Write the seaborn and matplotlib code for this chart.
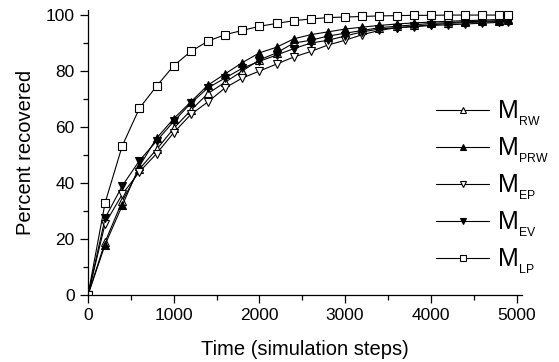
import seaborn as sns
import matplotlib.pyplot as plt
from matplotlib.ticker import MultipleLocator

# simulation steps
steps = [0, 200, 400, 600, 800, 1000, 1200, 1400, 1600, 1800, 2000, 2200, 2400,
         2600, 2800, 3000, 3200, 3400, 3600, 3800, 4000, 4200, 4400, 4600, 4800, 4900]

# percent recovered per method
m_rw = [0, 19, 33.5, 45, 52, 59.5, 66, 72, 76, 80, 84, 86.5, 90, 91, 92.5, 93.5,
        94.5, 95.5, 96, 96.5, 97, 97.3, 97.6, 97.8, 98, 98.2]
m_prw = [0, 18, 32, 46, 56, 63, 69, 75, 79, 83, 86.5, 88.5, 91.5, 93, 94, 95,
         95.7, 96.3, 96.8, 97.2, 97.5, 97.8, 98, 98.2, 98.4, 98.5]
m_ep = [0, 25.5, 36, 44, 50.5, 58, 64.5, 69, 74, 77.5, 80, 82.5, 85, 87, 89.3, 91,
        93, 94.5, 95.5, 96, 96.5, 97, 97.3, 97.5, 97.7, 97.8]
m_ev = [0, 27.5, 39, 48, 55, 62, 68.5, 74, 77.5, 81, 83.5, 85.7, 88, 90, 91, 92.5,
        94, 95, 95.5, 95.8, 96.3, 96.5, 96.8, 97.1, 97.4, 97.5]
m_lp = [0, 33, 53.3, 66.7, 74.6, 81.9, 87, 90.7, 93, 94.5, 96, 97, 98, 98.6, 99.1,
        99.3, 99.5, 99.7, 99.8, 99.9, 99.9, 100, 100, 100, 100, 100]

labels = ["M$_{{}_\\mathregular{RW}}$", "M$_{{}_\\mathregular{PRW}}$",
          "M$_{{}_\\mathregular{EP}}$", "M$_{{}_\\mathregular{EV}}$",
          "M$_{{}_\\mathregular{LP}}$"]
series = [m_rw, m_prw, m_ep, m_ev, m_lp]
markers = ["^", "^", "v", "v", "s"]
faces = ["white", "black", "white", "black", "white"]

sns.set_style("ticks")
plt.rcParams['font.family'] = ['Liberation Sans', 'DejaVu Sans']
plt.rcParams['text.color'] = 'black'
plt.rcParams['axes.labelcolor'] = 'black'
plt.rcParams['xtick.color'] = 'black'
plt.rcParams['ytick.color'] = 'black'

fig = plt.figure(figsize=(5.59, 3.62), dpi=100)
ax = fig.add_axes([0.1574, 0.185, 0.7758, 0.7873])

for vals, lab, mk, fc in zip(series, labels, markers, faces):
    sns.lineplot(x=steps, y=vals, ax=ax, color="black", linewidth=0.8,
                 marker=mk, markersize=6.3, markerfacecolor=fc,
                 markeredgecolor="black", markeredgewidth=0.8, label=lab)

ax.set_xlim(0, 5060)
ax.set_ylim(0, 101.8)
ax.xaxis.set_major_locator(MultipleLocator(1000))
ax.xaxis.set_minor_locator(MultipleLocator(500))
ax.yaxis.set_major_locator(MultipleLocator(20))
ax.yaxis.set_minor_locator(MultipleLocator(10))
ax.tick_params(which="major", length=6, width=0.9, labelsize=12.5)
ax.tick_params(which="minor", length=3.5, width=0.9)
for s in ["left", "bottom"]:
    ax.spines[s].set_color("black")
    ax.spines[s].set_linewidth(0.9)
sns.despine(ax=ax)

ax.set_xlabel("Time (simulation steps)", fontsize=14.5, labelpad=12)
ax.set_ylabel("Percent recovered", fontsize=14.5, labelpad=8)

ax.legend(loc="center left", bbox_to_anchor=(0.75, 0.378), frameon=False,
          fontsize=18, handlelength=2.15, labelspacing=0.32, markerscale=0.72,
          handletextpad=0.3, numpoints=1)

fig.savefig("out.png", dpi=100)
